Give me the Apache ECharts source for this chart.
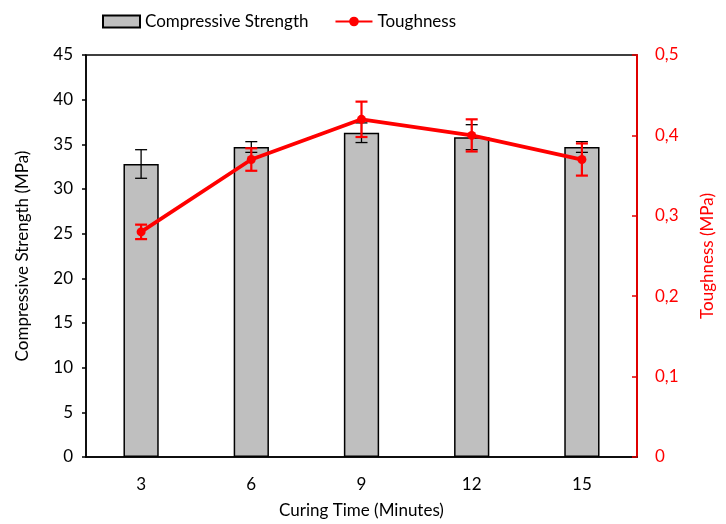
<!DOCTYPE html>
<html><head><meta charset="utf-8">
<script src="https://cdn.jsdelivr.net/npm/echarts@6/dist/echarts.min.js"></script>
<style>html,body{margin:0;padding:0;background:#fff}#c{width:726px;height:524px}</style>
</head><body><div id="c"></div>
<script>
const categories = ['3', '6', '9', '12', '15'];
const strength = [32.8, 34.7, 36.3, 35.8, 34.7];
const strengthErr = [1.6, 0.6, 1.1, 1.4, 0.6];
const toughness = [0.28, 0.37, 0.42, 0.40, 0.37];
const toughnessErr = [0.009, 0.014, 0.022, 0.02, 0.02];
const leftTicks = [0, 5, 10, 15, 20, 25, 30, 35, 40, 45];
const rightTicks = [0, 0.1, 0.2, 0.3, 0.4, 0.5];

const FONT = 'Lato';
const FS = 17;
const chart = echarts.init(document.getElementById('c'));

function errItem(color, lw, capW) {
  return function (params, api) {
    const x = api.value(0);
    const lo = api.coord([x, api.value(1)]);
    const hi = api.coord([x, api.value(2)]);
    const st = { stroke: color, lineWidth: lw };
    return {
      type: 'group',
      children: [
        { type: 'line', shape: { x1: lo[0], y1: lo[1], x2: hi[0], y2: hi[1] }, style: st },
        { type: 'line', shape: { x1: lo[0] - capW / 2, y1: lo[1], x2: lo[0] + capW / 2, y2: lo[1] }, style: st },
        { type: 'line', shape: { x1: hi[0] - capW / 2, y1: hi[1], x2: hi[0] + capW / 2, y2: hi[1] }, style: st }
      ]
    };
  };
}

chart.setOption({
  animation: false,
  textStyle: { fontFamily: FONT },
  legend: {
    data: [{ name: 'Compressive Strength', icon: 'rect' }, { name: 'Toughness' }],
    top: 8, left: 97,
    itemGap: 26, itemWidth: 37, itemHeight: 12,
    textStyle: { fontFamily: FONT, fontSize: FS, color: '#000' }
  },
  grid: { left: 86, right: 89, top: 55, bottom: 67, show: true, borderColor: '#000', borderWidth: 1.5 },
  xAxis: {
    type: 'category', data: categories,
    name: 'Curing Time (Minutes)', nameLocation: 'middle', nameGap: 45,
    nameTextStyle: { fontFamily: FONT, fontSize: FS, color: '#000' },
    axisLine: { lineStyle: { color: '#000', width: 1.5 } },
    axisTick: { show: false },
    axisLabel: { fontFamily: FONT, fontSize: FS, color: '#000', margin: 19 }
  },
  yAxis: [{
    type: 'value', min: 0, max: 45, interval: 5,
    name: 'Compressive Strength (MPa)', nameLocation: 'middle', nameGap: 55,
    nameTextStyle: { fontFamily: FONT, fontSize: FS, color: '#000' },
    axisLine: { show: true, lineStyle: { color: '#000', width: 1.5 } },
    axisTick: { show: true, length: 4, lineStyle: { color: '#000', width: 1.5 } },
    axisLabel: { fontFamily: FONT, fontSize: FS, color: '#000', margin: 13,
      formatter: v => leftTicks.includes(v) ? String(v) : '' },
    splitLine: { show: false }
  }, {
    type: 'value', min: 0, max: 0.5, interval: 0.1, position: 'right',
    name: 'Toughness (MPa)', nameLocation: 'middle', nameGap: 62, nameRotate: 90,
    nameTextStyle: { fontFamily: FONT, fontSize: FS, color: '#ff0000' },
    axisLine: { show: true, lineStyle: { color: '#e00000', width: 2 } },
    axisTick: { show: true, inside: true, length: 5, lineStyle: { color: '#e00000', width: 1.5 } },
    axisLabel: { fontFamily: FONT, fontSize: FS, color: '#ff0000', margin: 18,
      formatter: v => {
        const r = rightTicks.find(t => Math.abs(t - v) < 1e-9);
        return r === undefined ? '' : (r === 0 ? '0' : r.toFixed(1).replace('.', ','));
      } },
    splitLine: { show: false }
  }],
  series: [{
    name: 'Compressive Strength', type: 'bar', data: strength, barWidth: '32%',
    itemStyle: { color: '#bfbfbf', borderColor: '#000', borderWidth: 1.5 },
    z: 2
  }, {
    type: 'custom', name: 'sErr', yAxisIndex: 0,
    data: strength.map((v, i) => [i, v - strengthErr[i], v + strengthErr[i]]),
    renderItem: errItem('#000', 1.3, 12), z: 3, silent: true
  }, {
    name: 'Toughness', type: 'line', yAxisIndex: 1, data: toughness,
    symbol: 'circle', symbolSize: 9,
    lineStyle: { color: '#ff0000', width: 3.8 },
    itemStyle: { color: '#ff0000' }, z: 4
  }, {
    type: 'custom', name: 'tErr', yAxisIndex: 1,
    data: toughness.map((v, i) => [i, v - toughnessErr[i], v + toughnessErr[i]]),
    renderItem: errItem('#ff0000', 2.2, 12), z: 5, silent: true
  }]
});
</script></body></html>
